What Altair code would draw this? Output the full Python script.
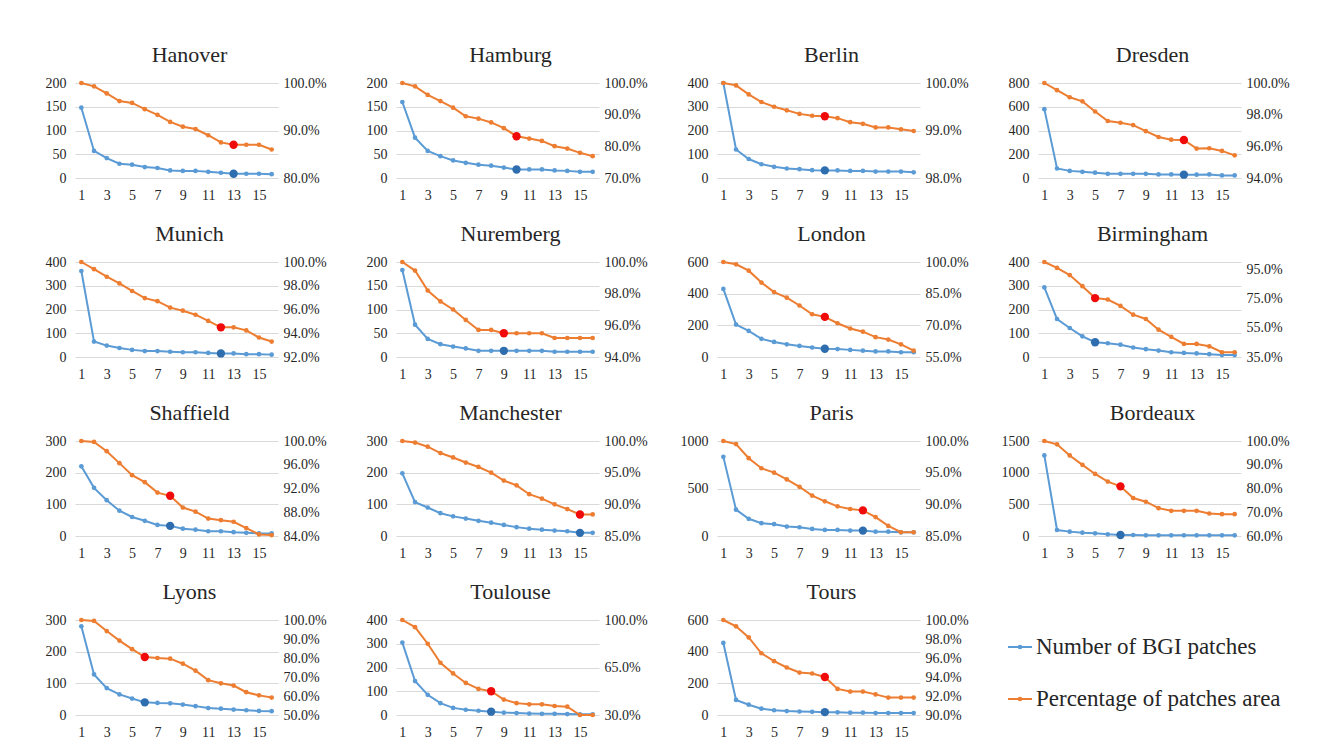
import altair as alt
import pandas as pd

# ---------------- data ----------------
cities = ["Hanover", "Hamburg", "Berlin", "Dresden",
          "Munich", "Nuremberg", "London", "Birmingham",
          "Shaffield", "Manchester", "Paris", "Bordeaux",
          "Lyons", "Toulouse", "Tours"]

steps = list(range(1, 17))

patches_hanover = [148, 57, 42, 30, 28, 23, 21, 16, 15, 15, 13, 11, 9, 9, 9, 8]
patches_hamburg = [160, 85, 57, 46, 37, 32, 28, 26, 22, 18, 18, 18, 16, 15, 13, 13]
patches_berlin = [400, 120, 80, 58, 47, 40, 37, 33, 32, 32, 30, 30, 27, 27, 27, 24]
patches_dresden = [580, 80, 60, 52, 45, 35, 35, 35, 35, 30, 30, 28, 28, 30, 22, 22]
patches_munich = [362, 65, 48, 38, 30, 25, 25, 22, 20, 20, 17, 15, 15, 12, 12, 10]
patches_nuremberg = [183, 68, 38, 27, 22, 18, 13, 13, 13, 13, 13, 13, 11, 11, 11, 11]
patches_london = [430, 205, 165, 115, 95, 80, 70, 60, 52, 50, 45, 40, 35, 35, 30, 30]
patches_birmingham = [293, 160, 122, 87, 62, 58, 52, 40, 33, 27, 20, 17, 15, 12, 8, 8]
patches_shaffield = [220, 152, 113, 80, 60, 48, 35, 32, 23, 20, 15, 15, 12, 10, 8, 8]
patches_manchester = [198, 107, 90, 72, 62, 55, 48, 42, 35, 28, 23, 20, 17, 15, 10, 10]
patches_paris = [833, 277, 181, 135, 124, 99, 92, 74, 64, 64, 57, 57, 46, 46, 39, 39]
patches_bordeaux = [1272, 95, 69, 53, 42, 26, 16, 16, 11, 11, 11, 11, 11, 11, 11, 11]
patches_lyons = [280, 128, 85, 65, 52, 40, 38, 37, 33, 28, 22, 20, 17, 15, 13, 12]
patches_toulouse = [305, 143, 85, 50, 30, 22, 18, 14, 10, 8, 6, 5, 5, 4, 3, 3]
patches_tours = [455, 95, 65, 40, 30, 25, 22, 20, 18, 17, 15, 15, 12, 12, 12, 12]

area_hanover = [100, 99.3, 97.8, 96.2, 95.8, 94.5, 93.3, 91.8, 90.8, 90.3, 89.0, 87.5, 87.0, 87.0, 87.0, 86.0]
area_hamburg = [100, 98.95, 96.25, 94.3, 92.2, 89.5, 88.75, 87.55, 85.75, 83.2, 82.45, 81.7, 80.05, 79.3, 77.95, 76.9]
area_berlin = [100, 99.95, 99.76, 99.6, 99.5, 99.425, 99.35, 99.31, 99.30, 99.26, 99.175, 99.14, 99.065, 99.065, 99.025, 98.99]
area_dresden = [100, 99.55, 99.1, 98.84, 98.2, 97.6, 97.49, 97.34, 96.96, 96.59, 96.42, 96.4, 95.86, 95.88, 95.71, 95.43]
area_munich = [100, 99.4, 98.76, 98.2, 97.56, 96.96, 96.7, 96.16, 95.9, 95.56, 95.04, 94.5, 94.5, 94.24, 93.64, 93.3]
area_nuremberg = [100, 99.46, 98.2, 97.51, 97.0, 96.34, 95.71, 95.71, 95.5, 95.5, 95.5, 95.5, 95.2, 95.2, 95.2, 95.2]
area_london = [100, 98.9, 95.9, 90.25, 85.75, 83.1, 79.4, 75.25, 74.0, 70.98, 68.5, 67.0, 64.4, 63.25, 61.0, 58.0]
area_birmingham = [100, 95.94, 91.06, 83.43, 75.3, 74.33, 69.94, 63.93, 61.0, 53.69, 48.81, 43.94, 43.94, 42.31, 38.25, 38.25]
area_shaffield = [100, 99.84, 98.29, 96.27, 94.24, 93.07, 91.31, 90.77, 88.8, 88.1, 86.93, 86.67, 86.4, 85.33, 84.27, 84.16]
area_manchester = [100, 99.75, 99.1, 98.1, 97.4, 96.6, 95.9, 95.0, 93.75, 93.0, 91.6, 90.9, 90.0, 89.25, 88.4, 88.4]
area_paris = [100, 99.52, 97.29, 95.7, 95.0, 93.94, 92.77, 91.38, 90.48, 89.68, 89.26, 89.05, 87.99, 86.59, 85.59, 85.59]
area_bordeaux = [100, 98.59, 93.92, 89.95, 86.13, 82.91, 80.91, 75.97, 74.43, 71.73, 70.61, 70.61, 70.61, 69.47, 69.2, 69.2]
area_lyons = [100, 99.5, 94.17, 89.17, 84.67, 80.5, 80.0, 79.67, 77.0, 73.33, 68.33, 66.67, 65.5, 62.0, 60.33, 59.17]
area_toulouse = [100, 94.75, 82.5, 68.5, 60.63, 53.63, 49.25, 47.5, 41.38, 38.75, 37.88, 37.88, 36.65, 36.13, 30.0, 30.0]
area_tours = [100, 99.33, 98.17, 96.5, 95.67, 95.0, 94.47, 94.37, 94.0, 92.75, 92.47, 92.47, 92.17, 91.83, 91.83, 91.83]

patches = [patches_hanover, patches_hamburg, patches_berlin, patches_dresden,
           patches_munich, patches_nuremberg, patches_london, patches_birmingham,
           patches_shaffield, patches_manchester, patches_paris, patches_bordeaux,
           patches_lyons, patches_toulouse, patches_tours]
areas = [area_hanover, area_hamburg, area_berlin, area_dresden,
         area_munich, area_nuremberg, area_london, area_birmingham,
         area_shaffield, area_manchester, area_paris, area_bordeaux,
         area_lyons, area_toulouse, area_tours]

# highlighted (optimal) step per city
highlight = [13, 10, 9, 12, 12, 9, 9, 5, 8, 15, 12, 7, 6, 8, 9]

# left axis tick labels
left_ticks = [[0, 50, 100, 150, 200], [0, 50, 100, 150, 200], [0, 100, 200, 300, 400],
              [0, 200, 400, 600, 800], [0, 100, 200, 300, 400], [0, 50, 100, 150, 200],
              [0, 200, 400, 600], [0, 100, 200, 300, 400], [0, 100, 200, 300],
              [0, 100, 200, 300], [0, 500, 1000], [0, 500, 1000, 1500],
              [0, 100, 200, 300], [0, 100, 200, 300, 400], [0, 200, 400, 600]]
# right axis domain minimum and tick labels (percent)
right_min = [80, 70, 98, 94, 92, 94, 55, 35, 84, 85, 85, 60, 50, 30, 90]
right_ticks = [[80, 90, 100], [70, 80, 90, 100], [98, 99, 100], [94, 96, 98, 100],
               [92, 94, 96, 98, 100], [94, 96, 98, 100], [55, 70, 85, 100],
               [35, 55, 75, 95], [84, 88, 92, 96, 100], [85, 90, 95, 100],
               [85, 90, 95, 100], [60, 70, 80, 90, 100], [50, 60, 70, 80, 90, 100],
               [30, 65, 100], [90, 92, 94, 96, 98, 100]]

x_labels = [1, 3, 5, 7, 9, 11, 13, 15]
legend_labels = ["Number of BGI patches", "Percentage of  patches area"]

# ---------------- style ----------------
BLUE = "#5B9BD5"
DARK_BLUE = "#2E6DAE"
ORANGE = "#ED7D31"
RED = "#F00A0A"
GRID = "#D9D9D9"
TEXT = "#262626"
FONT = "Liberation Serif"
PW, PH = 203, 95


def panel(i):
    df = pd.DataFrame({"step": steps, "count": patches[i], "pct": areas[i]})
    df["hl"] = df["step"] == highlight[i]
    base = alt.Chart(df)
    x = alt.X("step:O", scale=alt.Scale(type="point", padding=0.5),
              axis=alt.Axis(values=x_labels, labelAngle=0, title=None, domain=False,
                            ticks=False, grid=False, labelPadding=10, labelFontSize=14,
                            labelFont=FONT, labelColor=TEXT))
    yl = alt.Y("count:Q",
               scale=alt.Scale(domain=[0, left_ticks[i][-1]], nice=False, zero=True),
               axis=alt.Axis(values=left_ticks[i], title=None, grid=True, gridColor=GRID,
                             gridWidth=1, domain=False, ticks=False, labelPadding=9,
                             labelFontSize=14, labelFont=FONT, labelColor=TEXT,
                             format="d", minExtent=60, maxExtent=60))
    yr = alt.Y("pct:Q",
               scale=alt.Scale(domain=[right_min[i], 100], nice=False, zero=False),
               axis=alt.Axis(orient="right", values=right_ticks[i], title=None, grid=False,
                             domain=False, ticks=False, labelPadding=5, labelFontSize=14,
                             labelFont=FONT, labelColor=TEXT,
                             labelExpr="format(datum.value, '.1f') + '%'",
                             minExtent=58, maxExtent=58))
    blue = alt.layer(
        base.mark_line(color=BLUE, strokeWidth=2).encode(x=x, y=yl),
        base.mark_circle(color=BLUE, size=22, opacity=1).encode(x=x, y=yl),
        base.transform_filter("datum.hl").mark_circle(color=DARK_BLUE, size=70, opacity=1).encode(x=x, y=yl),
    )
    orange = alt.layer(
        base.mark_line(color=ORANGE, strokeWidth=2).encode(x=x, y=yr),
        base.mark_circle(color=ORANGE, size=22, opacity=1).encode(x=x, y=yr),
        base.transform_filter("datum.hl").mark_circle(color=RED, size=70, opacity=1).encode(x=x, y=yr),
    )
    return alt.layer(blue, orange).resolve_scale(y="independent").properties(
        width=PW, height=PH,
        title=alt.Title(cities[i], fontSize=22, font=FONT, fontWeight="normal",
                        color=TEXT, offset=9, dx=13))


def legend_panel():
    df = pd.DataFrame({"series": legend_labels})
    y = alt.Y("series:N", scale=alt.Scale(type="point", domain=legend_labels, padding=0.52),
              axis=None)
    col = alt.Color("series:N", scale=alt.Scale(domain=legend_labels, range=[BLUE, ORANGE]),
                    legend=None)
    base = alt.Chart(df)
    return alt.layer(
        base.mark_rule(strokeWidth=2).encode(x=alt.value(30), x2=alt.value(54), y=y, color=col),
        base.mark_circle(size=22, opacity=1).encode(x=alt.value(42), y=y, color=col),
        base.mark_text(align="left", baseline="middle", fontSize=23, font=FONT,
                       color=TEXT).encode(x=alt.value(58), y=y, text="series:N"),
    ).properties(width=290, height=106)


rows = []
for r in range(4):
    idx = list(range(r * 4, min(r * 4 + 4, len(cities))))
    charts = [panel(i) for i in idx]
    if r == 3:
        charts.append(legend_panel())
    rows.append(alt.hconcat(*charts, spacing=0))

chart = alt.vconcat(*rows, spacing=21).properties(
    padding={"left": 7, "top": 36, "right": 5, "bottom": 5},
    background="white",
).configure_view(stroke=None)

chart.save("out.html", embed_options={"renderer": "svg", "actions": False})
